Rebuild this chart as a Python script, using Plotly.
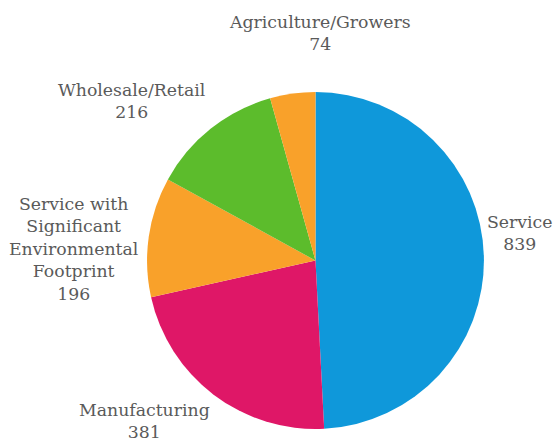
import plotly.graph_objects as go

# Organisations by sector
sectors = ["Service", "Manufacturing",
           "Service with<br>Significant<br>Environmental<br>Footprint",
           "Wholesale/Retail", "Agriculture/Growers"]
counts = [839, 381, 196, 216, 74]
colors = ["#0f98da", "#df1767", "#f9a12a", "#5cbc2c", "#f9a12a"]

# label anchor points (paper coordinates, centre of the text block)
label_pos = [(0.94, 0.477), (0.262, 0.053), (0.133, 0.441),
             (0.239, 0.772), (0.578, 0.925)]

fig = go.Figure(go.Pie(
    labels=sectors,
    values=counts,
    sort=False,
    direction="clockwise",
    rotation=0,
    marker=dict(colors=colors, line=dict(width=0)),
    textinfo="none",
    hoverinfo="label+value",
    domain=dict(x=[0.265, 0.876], y=[0.036, 0.793]),
    showlegend=False,
))

for name, val, (px, py) in zip(sectors, counts, label_pos):
    fig.add_annotation(
        x=px, y=py, xref="paper", yref="paper",
        text=f"{name}<br>{val}", showarrow=False,
        xanchor="center", yanchor="middle", align="center",
        font=dict(family="DejaVu Serif", size=17.3, color="#5a5a5a"),
    )

fig.update_layout(
    width=553, height=445,
    margin=dict(l=0, r=0, t=0, b=0),
    paper_bgcolor="white", plot_bgcolor="white",
)

fig.write_html("out.html")
